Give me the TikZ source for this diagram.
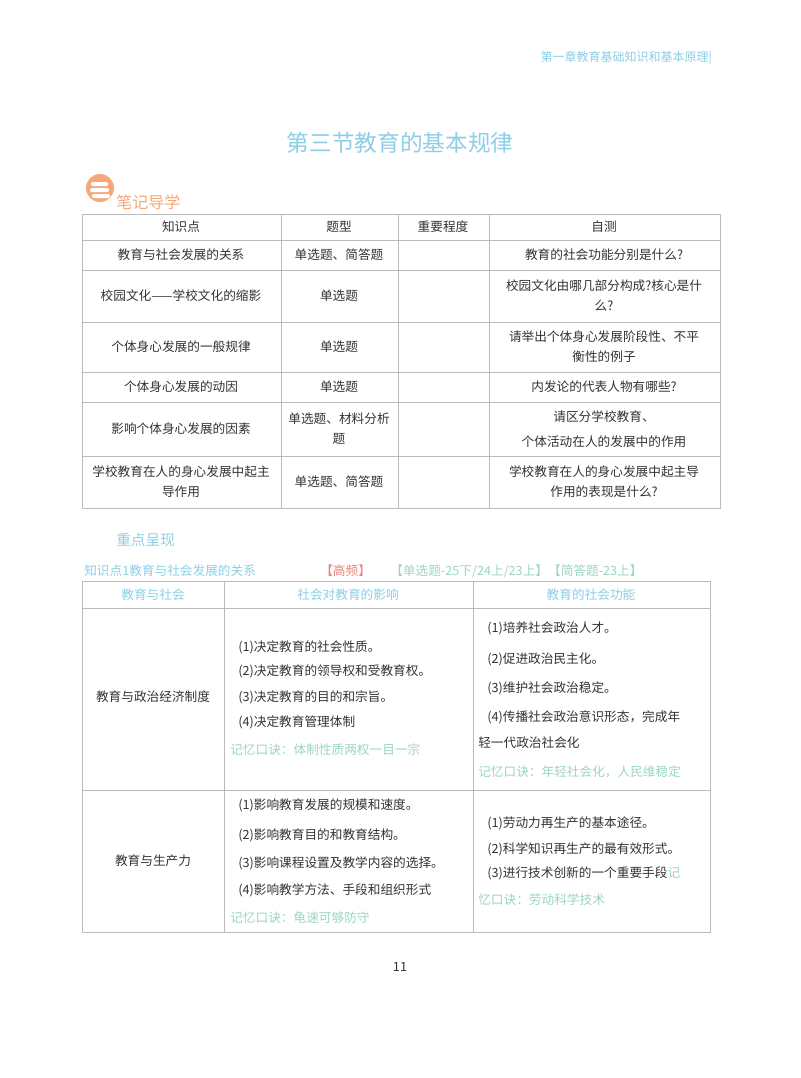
\documentclass[tikz,border=0pt]{standalone}
\usepackage{fontspec}
\setmainfont{Noto Sans CJK SC}
\definecolor{tblue}{HTML}{8CCFE6}
\definecolor{tgreen}{HTML}{9CD6BE}
\definecolor{tred}{HTML}{E8847C}
\definecolor{torange}{HTML}{F5A878}
\definecolor{grid}{HTML}{BBBBBB}
\definecolor{txt}{HTML}{333333}
\begin{document}
\begin{tikzpicture}[x=0.75pt,y=-0.75pt,
  t/.style={font=\fontsize{9.5}{11}\selectfont,text=txt,inner sep=0pt},
  c/.style={t,align=center},
  l/.style={t,anchor=west},
  g/.style={l,text=tgreen},
  h/.style={c,text=tblue},
  ln/.style={draw=grid,line width=0.6pt}]
\useasboundingbox (0,0) rectangle (800,1078);
\fill[white] (0,0) rectangle (800,1078);
% header
\node[t,anchor=east,text=tblue,font=\fontsize{9}{10}\selectfont] (hd) at (712,58) {第一章教育基础知识和基本原理|};
\node[t,text=tblue,font=\fontsize{17}{20}\selectfont] (title) at (400,143) {第三节教育的基本规律};
% icon
\fill[torange] (100,188) circle (14);
\fill[white,rounded corners=1pt] (91,182) rectangle (108,186);
\fill[white,rounded corners=1pt] (90,188) rectangle (109,192);
\fill[white,rounded corners=1pt] (92,194) rectangle (110,198);
\node[l,text=torange,font=\fontsize{12}{14}\selectfont] (bj) at (116,202) {笔记导学};
% table 1
\draw[ln] (82,214) rectangle (720,508);
\foreach \y in {240,270,322,372,402,456} \draw[ln] (82,\y) -- (720,\y);
\foreach \x in {281,398,489} \draw[ln] (\x,214) -- (\x,508);
\node[c] (a1) at (181,227) {知识点};
\node[c] (a2) at (339,227) {题型};
\node[c] (a3) at (443,227) {重要程度};
\node[c] (a4) at (604,227) {自测};
\node[c] (b1) at (181,255) {教育与社会发展的关系};
\node[c] (b2) at (339,255) {单选题、简答题};
\node[c] (b4) at (604,255) {教育的社会功能分别是什么?};
\node[c] (c1) at (181,296) {校园文化——学校文化的缩影};
\node[c] (c2) at (339,296) {单选题};
\node[c] (c4) at (604,296) {校园文化由哪几部分构成?核心是什\\[4pt]么?};
\node[c] (d1) at (181,347) {个体身心发展的一般规律};
\node[c] (d2) at (339,347) {单选题};
\node[c] (d4) at (604,347) {请举出个体身心发展阶段性、不平\\[4pt]衡性的例子};
\node[c] (e1) at (181,387) {个体身心发展的动因};
\node[c] (e2) at (339,387) {单选题};
\node[c] (e4) at (604,387) {内发论的代表人物有哪些?};
\node[c] (f1) at (181,429) {影响个体身心发展的因素};
\node[c] (f2) at (339,429) {单选题、材料分析\\[4pt]题};
\node[c] (f4) at (604,429) {请区分学校教育、\\[8pt]个体活动在人的发展中的作用};
\node[c] (g1) at (181,482) {学校教育在人的身心发展中起主\\[4pt]导作用};
\node[c] (g2) at (339,482) {单选题、简答题};
\node[c] (g4) at (604,482) {学校教育在人的身心发展中起主导\\[4pt]作用的表现是什么?};
% section
\node[l,text=tblue,font=\fontsize{11}{13}\selectfont] (zd) at (116,540) {重点呈现};
\node[l,text=tblue] (kp) at (84,571) {知识点1教育与社会发展的关系};
\node[l,text=tred] (gp) at (320,571) {【高频】};
\node[l,text=tgreen] (tx) at (390,571) {【单选题-25下/24上/23上】【简答题-23上】};
% table 2
\draw[ln] (82,581) rectangle (710,932);
\foreach \y in {608,790} \draw[ln] (82,\y) -- (710,\y);
\foreach \x in {224,473} \draw[ln] (\x,581) -- (\x,932);
\node[h] (h1) at (153,595) {教育与社会};
\node[h] (h2) at (348,595) {社会对教育的影响};
\node[h] (h3) at (591,595) {教育的社会功能};
\node[c] (r1) at (153,697) {教育与政治经济制度};
\node[l] (p1) at (238,647) {(1)决定教育的社会性质。};
\node[l] (p2) at (238,671) {(2)决定教育的领导权和受教育权。};
\node[l] (p3) at (238,697) {(3)决定教育的目的和宗旨。};
\node[l] (p4) at (238,722) {(4)决定教育管理体制};
\node[g] (p5) at (230,750) {记忆口诀：体制性质两权一目一宗};
\node[l] (q1) at (487,628) {(1)培养社会政治人才。};
\node[l] (q2) at (487,659) {(2)促进政治民主化。};
\node[l] (q3) at (487,688) {(3)维护社会政治稳定。};
\node[l] (q4) at (487,717) {(4)传播社会政治意识形态，完成年};
\node[l] (q5) at (478,743) {轻一代政治社会化};
\node[g] (q6) at (478,772) {记忆口诀：年轻社会化，人民维稳定};
\node[c] (r2) at (153,861) {教育与生产力};
\node[l] (s1) at (238,805) {(1)影响教育发展的规模和速度。};
\node[l] (s2) at (238,835) {(2)影响教育目的和教育结构。};
\node[l] (s3) at (238,863) {(3)影响课程设置及教学内容的选择。};
\node[l] (s4) at (238,890) {(4)影响教学方法、手段和组织形式};
\node[g] (s5) at (230,918) {记忆口诀：龟速可够防守};
\node[l] (u1) at (487,823) {(1)劳动力再生产的基本途径。};
\node[l] (u2) at (487,849) {(2)科学知识再生产的最有效形式。};
\node[l] (u3) at (487,873) {(3)进行技术创新的一个重要手段\textcolor{tgreen}{记}};
\node[g] (u4) at (478,900) {忆口诀：劳动科学技术};
\node[t] (pg) at (400,967) {11};
\end{tikzpicture}
\end{document}
